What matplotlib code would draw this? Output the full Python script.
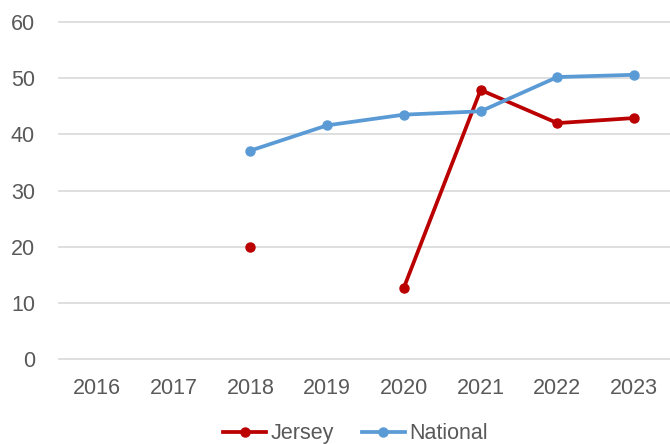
import numpy as np
import matplotlib
matplotlib.use("Agg")
import matplotlib.pyplot as plt

plt.rcParams['font.family'] = ['Liberation Sans', 'DejaVu Sans']

years = ["2016", "2017", "2018", "2019", "2020", "2021", "2022", "2023"]
jersey = [np.nan, np.nan, 20.0, np.nan, 12.7, 47.9, 42.0, 42.9]
national = [np.nan, np.nan, 37.1, 41.6, 43.5, 44.1, 50.2, 50.6]

fig = plt.figure(figsize=(6.70, 4.44), dpi=100)
ax = fig.add_axes([58.5 / 670, 85 / 444, 614 / 670, 337 / 444])

x = np.arange(len(years))
ax.plot(x, jersey, color="#BA0000", lw=2.7, marker="o", ms=6.5,
        label="Jersey", solid_joinstyle="round", zorder=3)
ax.plot(x, national, color="#5B9BD5", lw=2.7, marker="o", ms=6.5,
        label="National", solid_joinstyle="round", zorder=3)

ax.set_xlim(-0.5, len(years) - 0.5)
ax.set_ylim(0, 60)
ax.set_yticks(np.arange(0, 61, 10))
ax.set_xticks(x)
ax.set_xticklabels(years)
ax.grid(axis="y", color="#D9D9D9", lw=1.2)
for gl in ax.get_ygridlines():
    gl.set_clip_on(False)
ax.set_axisbelow(True)
for s in ax.spines.values():
    s.set_visible(False)
ax.tick_params(length=0, labelsize=15.5, colors="#595959")
ax.tick_params(axis="x", pad=13.5)
ax.tick_params(axis="y", pad=17)

leg = ax.legend(loc="center", bbox_to_anchor=(0.5 - 10 / 614, -0.222), ncol=2,
                frameon=False, fontsize=15.5, handlelength=2.0,
                handletextpad=0.2, columnspacing=1.3)
for t in leg.get_texts():
    t.set_color("#595959")

fig.savefig("out.png", dpi=100)
